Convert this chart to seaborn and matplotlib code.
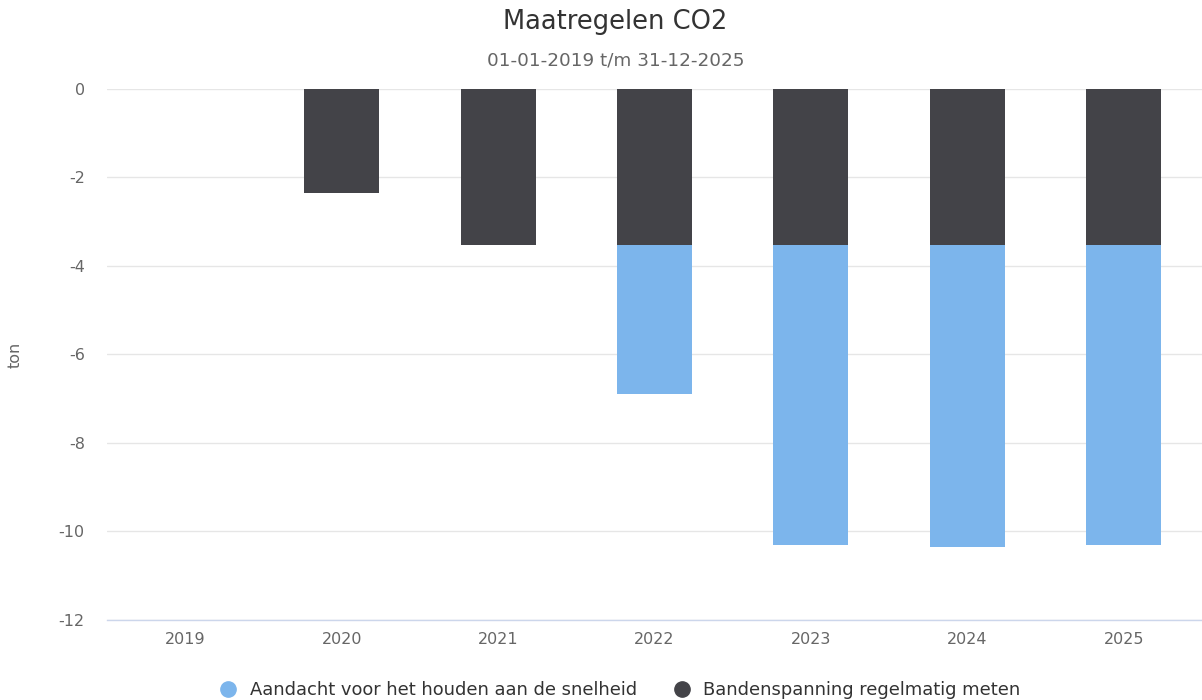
import matplotlib
matplotlib.use("Agg")
import matplotlib.pyplot as plt
import seaborn as sns
import pandas as pd
from matplotlib.lines import Line2D

years = ["2019", "2020", "2021", "2022", "2023", "2024", "2025"]
banden = [0.0, -2.36, -3.53, -3.53, -3.53, -3.53, -3.53]
snelheid = [0.0, 0.0, 0.0, -3.36, -6.78, -6.82, -6.78]
series_names = ["Aandacht voor het houden aan de snelheid", "Bandenspanning regelmatig meten"]
colors = ["#7cb5ec", "#434348"]
yticks = [0, -2, -4, -6, -8, -10, -12]

sns.set_theme(style="white")
plt.rcParams['font.family'] = ['DejaVu Sans']

totals = [b + s for b, s in zip(banden, snelheid)]
df = pd.DataFrame({"year": years, "total": totals, "banden": banden})

fig = plt.figure(figsize=(12.02, 7.0), dpi=100)
ax = fig.add_axes([0.089, 0.1143, 0.911, 0.7586])

sns.barplot(data=df, x="year", y="total", color=colors[0], width=0.48,
            linewidth=0, saturation=1, ax=ax)
sns.barplot(data=df, x="year", y="banden", color=colors[1], width=0.48,
            linewidth=0, saturation=1, ax=ax)

ax.set_ylim(-12, 0)
ax.set_xlim(-0.5, 6.5)
ax.set_yticks(yticks)
ax.set_yticklabels([str(t) for t in yticks])
ax.yaxis.grid(True, color="#e6e6e6", linewidth=1)
ax.set_axisbelow(True)
for s in ["top", "right", "left"]:
    ax.spines[s].set_visible(False)
ax.spines["bottom"].set_color("#ccd6eb")
ax.spines["bottom"].set_linewidth(1)
ax.tick_params(axis="both", length=0, labelsize=11.5, colors="#666666")
ax.tick_params(axis="y", pad=16)
ax.tick_params(axis="x", pad=9)
ax.set_xlabel("")
ax.set_ylabel("ton", fontsize=11.5, color="#666666", labelpad=26)

cx = 0.512
fig.text(cx, 0.968, "Maatregelen CO2", ha="center", va="center", fontsize=18.5, color="#333333")
fig.text(cx, 0.914, "01-01-2019 t/m 31-12-2025", ha="center", va="center", fontsize=13.2, color="#666666")

handles = [Line2D([0], [0], marker="o", linestyle="", markersize=11,
                  markerfacecolor=c, markeredgecolor=c) for c in colors]
fig.legend(handles, series_names, loc="center", bbox_to_anchor=(cx, 0.014),
           ncol=2, frameon=False, fontsize=12.9, labelcolor="#333333",
           handletextpad=0.2, columnspacing=1.5)

fig.savefig("out.png", dpi=100)
